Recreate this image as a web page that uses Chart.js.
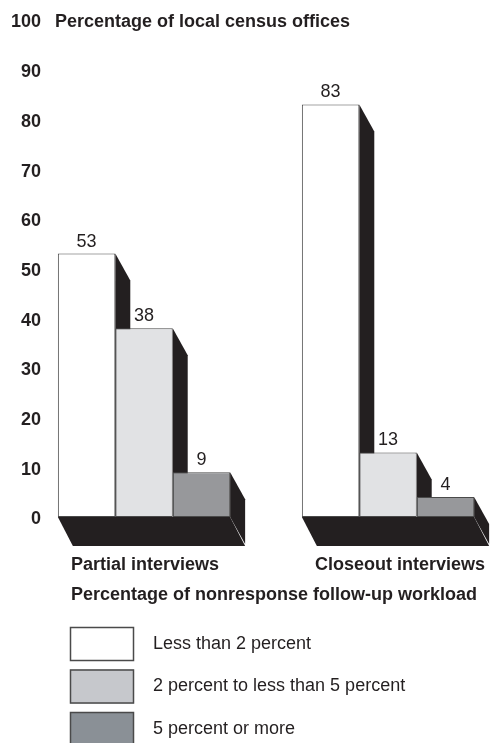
<!DOCTYPE html>
<html>
<head>
<meta charset="utf-8">
<script src="https://cdn.jsdelivr.net/npm/chart.js@4"></script>
<style>
  html, body { margin: 0; padding: 0; background: #fff; overflow: hidden; }
  #wrap { position: relative; width: 510px; height: 743px; }
</style>
</head>
<body>
<div id="wrap"><canvas id="chart"></canvas></div>
<script>
// Chart data
const groups = ['Partial interviews', 'Closeout interviews'];
const seriesNames = ['Less than 2 percent', '2 percent to less than 5 percent', '5 percent or more'];
const lessThan2 = [53, 83];
const from2to5 = [38, 13];
const fiveOrMore = [9, 4];
const yTicks = [0, 10, 20, 30, 40, 50, 60, 70, 80, 90, 100];
const yTitle = 'Percentage of local census offices';
const xTitle = 'Percentage of nonresponse follow-up workload';

// Styling
const barColors = ['#ffffff', '#e1e2e4', '#97989b'];
const legendColors = ['#ffffff', '#c6c8cc', '#8a9096'];
const ink = '#231f20';
const edge = '#4a4a4a';
const fontFamily = '"Liberation Sans", Arial, Helvetica, sans-serif';
const depthX = 15;
const depthY = 27;

// Black side faces and floor behind the bars
const extrudePlugin = {
    id: 'extrude',
    beforeDatasetsDraw(chart) {
        const ctx = chart.ctx;
        const metas = chart.getSortedVisibleDatasetMetas();
        ctx.save();
        ctx.fillStyle = ink;
        metas.forEach(meta => {
            meta.data.forEach(bar => {
                const right = bar.x + bar.width / 2;
                ctx.beginPath();
                ctx.moveTo(right, bar.y);
                ctx.lineTo(right + depthX, bar.y + depthY);
                ctx.lineTo(right + depthX, bar.base + depthY);
                ctx.lineTo(right, bar.base);
                ctx.closePath();
                ctx.fill();
            });
        });
        // floor under each group
        groups.forEach((g, i) => {
            const first = metas[0].data[i];
            const last = metas[metas.length - 1].data[i];
            const left = first.x - first.width / 2;
            const right = last.x + last.width / 2;
            const base = first.base;
            ctx.beginPath();
            ctx.moveTo(left, base);
            ctx.lineTo(right, base);
            ctx.lineTo(right + depthX, base + depthY + 2);
            ctx.lineTo(left + depthX, base + depthY + 2);
            ctx.closePath();
            ctx.fill();
        });
        ctx.restore();
    }
};

// Value labels, titles and legend
const annotatePlugin = {
    id: 'annotate',
    afterDraw(chart) {
        const ctx = chart.ctx;
        const yScale = chart.scales.y;
        const xScale = chart.scales.x;
        ctx.save();
        ctx.fillStyle = ink;

        // values above bars
        ctx.font = '18px ' + fontFamily;
        ctx.textAlign = 'center';
        ctx.textBaseline = 'alphabetic';
        chart.getSortedVisibleDatasetMetas().forEach(meta => {
            const values = chart.data.datasets[meta.index].data;
            meta.data.forEach((bar, i) => {
                ctx.fillText(String(values[i]), bar.x, bar.y - 7);
            });
        });

        // y axis title beside the top tick
        ctx.font = 'bold 18px ' + fontFamily;
        ctx.textAlign = 'left';
        ctx.textBaseline = 'middle';
        ctx.fillText(yTitle, 55, yScale.getPixelForValue(100) + 2.5);

        // x axis title
        ctx.fillText(xTitle, 71, xScale.top + 78);

        // legend
        ctx.font = '18px ' + fontFamily;
        const legendTop = xScale.top + 110;
        seriesNames.forEach((name, i) => {
            const top = legendTop + i * 42.5;
            ctx.fillStyle = legendColors[i];
            ctx.fillRect(70, top, 64, 34);
            ctx.strokeStyle = edge;
            ctx.lineWidth = 1.5;
            ctx.strokeRect(70.5, top + 0.5, 63, 33);
            ctx.fillStyle = ink;
            ctx.fillText(name, 153, top + 17);
        });
        ctx.restore();
    }
};

const datasets = [lessThan2, from2to5, fiveOrMore].map((values, i) => ({
    label: seriesNames[i],
    data: values,
    backgroundColor: barColors[i],
    borderColor: edge,
    borderWidth: 1,
    borderSkipped: false,
    categoryPercentage: 0.706,
    barPercentage: 1.0
}));

const ctx = document.getElementById('chart').getContext('2d');
const chart = new Chart(ctx, {
    type: 'bar',
    data: { labels: groups, datasets: datasets },
    plugins: [extrudePlugin, annotatePlugin],
    options: {
        responsive: true,
        maintainAspectRatio: false,
        animation: false,
        layout: { padding: { top: 20, left: 0, right: 0, bottom: 0 } },
        plugins: {
            legend: { display: false },
            tooltip: { enabled: false }
        },
        scales: {
            x: {
                afterFit: scale => {
                    scale.height = 226;
                    scale.paddingLeft = 0;
                    scale.paddingRight = 0;
                },
                grid: { display: false, drawTicks: false, tickLength: 0 },
                border: { display: false },
                ticks: {
                    color: ink,
                    font: { family: fontFamily, size: 18, weight: 'bold' },
                    align: 'start',
                    labelOffset: -73,
                    padding: 37,
                    maxRotation: 0
                }
            },
            y: {
                min: 0,
                max: 100,
                afterFit: scale => {
                    scale.width = 22;
                    scale.paddingTop = 0;
                    scale.paddingBottom = 0;
                },
                afterBuildTicks: scale => { scale.ticks = yTicks.map(v => ({ value: v })); },
                grid: { display: false, drawTicks: false, tickLength: 0 },
                border: { display: false },
                ticks: {
                    color: ink,
                    font: { family: fontFamily, size: 18, weight: 'bold' },
                    mirror: true,
                    crossAlign: 'far',
                    padding: -11,
                    labelOffset: 2.5
                }
            }
        }
    }
});
</script>
</body>
</html>
